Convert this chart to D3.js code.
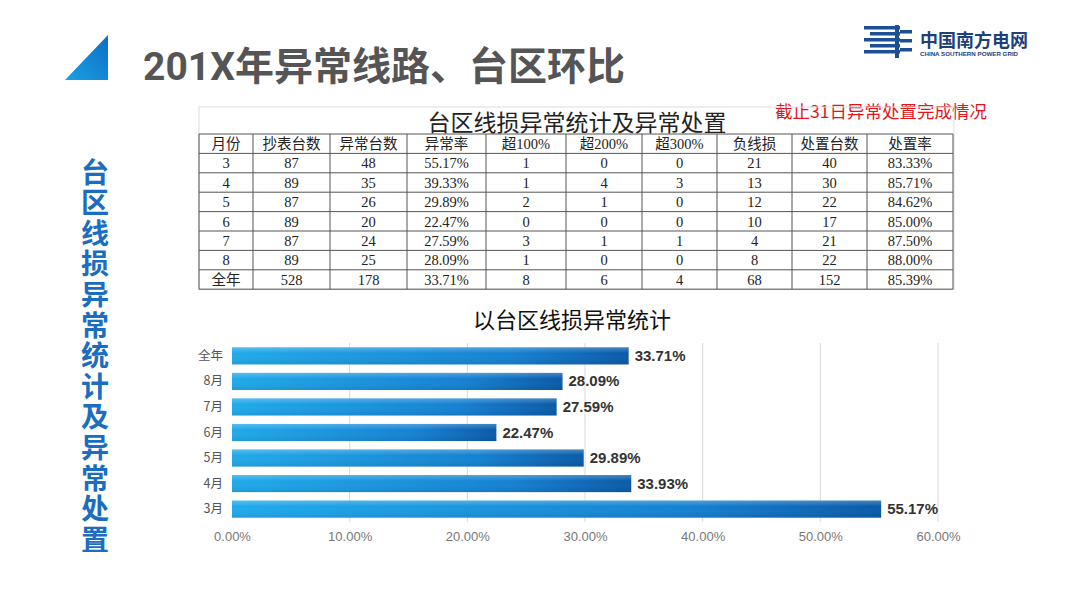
<!DOCTYPE html>
<html>
<head>
<meta charset="utf-8">
<script src="https://cdn.jsdelivr.net/npm/d3@7"></script>
<style>
  body { margin: 0; background: #fff; }
  svg { display: block; }
</style>
</head>
<body>
<div id="chart"></div>
<script>
// table data
var months = ["3", "4", "5", "6", "7", "8", "全年"];
var meterCounts = [87, 89, 87, 89, 87, 89, 528];
var abnormalCounts = [48, 35, 26, 20, 24, 25, 178];
var abnormalRates = ["55.17%", "39.33%", "29.89%", "22.47%", "27.59%", "28.09%", "33.71%"];
var over100 = [1, 1, 2, 0, 3, 1, 8];
var over200 = [0, 4, 1, 0, 1, 0, 6];
var over300 = [0, 3, 0, 0, 1, 0, 4];
var negLoss = [21, 13, 12, 10, 4, 8, 68];
var handled = [40, 30, 22, 17, 21, 22, 152];
var handleRates = ["83.33%", "85.71%", "84.62%", "85.00%", "87.50%", "88.00%", "85.39%"];
var headers = ["月份", "抄表台数", "异常台数", "异常率", "超100%", "超200%", "超300%", "负线损", "处置台数", "处置率"];

// bar chart data
var barCats = ["全年", "8月", "7月", "6月", "5月", "4月", "3月"];
var barValues = [33.71, 28.09, 27.59, 22.47, 29.89, 33.93, 55.17];
var xTicks = [0, 10, 20, 30, 40, 50, 60];

var W = 1067, H = 600;
var svg = d3.select("#chart").append("svg")
  .attr("width", W).attr("height", H);

var defs = svg.append("defs");
var tri = defs.append("linearGradient").attr("id", "tri")
  .attr("x1", 0).attr("y1", 1).attr("x2", 1).attr("y2", 0);
tri.append("stop").attr("offset", "0%").attr("stop-color", "#1c9fe3");
tri.append("stop").attr("offset", "100%").attr("stop-color", "#0b6fc4");

var barGrad = defs.append("linearGradient").attr("id", "barGrad")
  .attr("x1", 0).attr("y1", 0).attr("x2", 1).attr("y2", 0);
barGrad.append("stop").attr("offset", "0%").attr("stop-color", "#20aaea");
barGrad.append("stop").attr("offset", "70%").attr("stop-color", "#1581d2");
barGrad.append("stop").attr("offset", "100%").attr("stop-color", "#0a5aa8");

var barShade = defs.append("linearGradient").attr("id", "barShade")
  .attr("x1", 0).attr("y1", 0).attr("x2", 0).attr("y2", 1);
barShade.append("stop").attr("offset", "0%").attr("stop-color", "#fff").attr("stop-opacity", 0.25);
barShade.append("stop").attr("offset", "35%").attr("stop-color", "#fff").attr("stop-opacity", 0);
barShade.append("stop").attr("offset", "100%").attr("stop-color", "#000").attr("stop-opacity", 0.08);

// header: triangle + title
svg.append("path")
  .attr("d", "M65,80 L108,35 L108,80 Z")
  .attr("fill", "url(#tri)");

svg.append("text")
  .attr("x", 143).attr("y", 80)
  .attr("font-family", "Roboto, 'Noto Sans CJK SC', sans-serif")
  .attr("font-size", 39).attr("font-weight", "bold")
  .attr("fill", "#555")
  .text("201X年异常线路、台区环比");

// logo
var logo = svg.append("g").attr("transform", "translate(864,26)");
var stripes = [0, 6, 12, 18, 24];
logo.selectAll("rect.s").data(stripes).enter().append("rect")
  .attr("x", function(d, i) { return i % 2 ? 6 : 0; })
  .attr("y", function(d) { return d; })
  .attr("width", function(d, i) { return i % 2 ? 30 : 36; })
  .attr("height", 3.5)
  .attr("fill", "#1d4f91");
logo.append("rect").attr("x", 31).attr("y", -1).attr("width", 4).attr("height", 33).attr("fill", "#1d4f91");
logo.selectAll("rect.r").data([4, 13, 22]).enter().append("rect")
  .attr("x", 36).attr("y", function(d) { return d; })
  .attr("width", 12).attr("height", 3.5).attr("fill", "#1d4f91");
logo.append("text").attr("x", 56).attr("y", 21)
  .attr("font-family", "'Noto Sans CJK SC', sans-serif")
  .attr("font-size", 18).attr("font-weight", "bold").attr("fill", "#1d3f7a")
  .text("中国南方电网");
logo.append("text").attr("x", 56).attr("y", 30)
  .attr("font-family", "'Liberation Sans', Arial, sans-serif")
  .attr("font-size", 6.2).attr("font-weight", "bold").attr("fill", "#1d3f7a")
  .text("CHINA SOUTHERN POWER GRID");

// vertical side text
svg.append("text")
  .attr("x", 95).attr("y", 158)
  .attr("writing-mode", "vertical-rl")
  .attr("font-family", "'Noto Sans CJK SC', sans-serif")
  .attr("font-size", 28).attr("font-weight", "bold")
  .attr("letter-spacing", 2.6)
  .attr("fill", "#1b6dc1")
  .text("台区线损异常统计及异常处置");

// red note
svg.append("text")
  .attr("x", 775).attr("y", 118)
  .attr("font-family", "'Noto Sans CJK SC', sans-serif")
  .attr("font-size", 17.5).attr("fill", "#e3141b")
  .text("截止31日异常处置完成情况");

// table
var colEdges = [199, 253, 330, 407, 486, 566, 642, 717, 792, 867, 953];
var rowTop = 134, rowH = 19.4;
var rows = months.map(function(m, i) {
  return [m, meterCounts[i], abnormalCounts[i], abnormalRates[i], over100[i], over200[i],
    over300[i], negLoss[i], handled[i], handleRates[i]];
});
var allRows = [headers].concat(rows);
var tbl = svg.append("g");

tbl.append("rect")
  .attr("x", 199).attr("y", 107)
  .attr("width", 954 - 199).attr("height", rowTop + allRows.length * rowH - 107)
  .attr("fill", "none").attr("stroke", "#ddd");

tbl.append("text")
  .attr("x", 577).attr("y", 131)
  .attr("text-anchor", "middle")
  .attr("font-family", "'Noto Sans CJK SC', sans-serif")
  .attr("font-size", 23).attr("fill", "#222")
  .text("台区线损异常统计及异常处置");

var tBottom = rowTop + allRows.length * rowH;
tbl.selectAll("line.h").data(d3.range(allRows.length + 1)).enter().append("line")
  .attr("x1", colEdges[0]).attr("x2", colEdges[colEdges.length - 1])
  .attr("y1", function(d) { return rowTop + d * rowH; })
  .attr("y2", function(d) { return rowTop + d * rowH; })
  .attr("stroke", "#555").attr("stroke-width", 1);
tbl.selectAll("line.v").data(colEdges).enter().append("line")
  .attr("x1", function(d) { return d; }).attr("x2", function(d) { return d; })
  .attr("y1", rowTop).attr("y2", tBottom)
  .attr("stroke", "#555").attr("stroke-width", 1);

allRows.forEach(function(r, ri) {
  tbl.selectAll("text.r" + ri).data(r).enter().append("text")
    .attr("x", function(d, ci) { return (colEdges[ci] + colEdges[ci + 1]) / 2; })
    .attr("y", rowTop + ri * rowH + 15)
    .attr("text-anchor", "middle")
    .attr("font-family", "'Liberation Serif', 'Noto Sans CJK SC', serif")
    .attr("font-size", 14.5).attr("fill", "#222")
    .text(function(d) { return d; });
});

// bar chart
svg.append("text")
  .attr("x", 572).attr("y", 328)
  .attr("text-anchor", "middle")
  .attr("font-family", "'Noto Sans CJK SC', sans-serif")
  .attr("font-size", 22).attr("fill", "#111")
  .text("以台区线损异常统计");

var x = d3.scaleLinear().domain([0, 60]).range([232, 938]);
var y = d3.scaleBand().domain(barCats).range([343, 522]).paddingInner(0.33).paddingOuter(0.17);

var g = svg.append("g");
g.selectAll("line.grid").data(xTicks.slice(1)).enter().append("line")
  .attr("x1", function(d) { return x(d); }).attr("x2", function(d) { return x(d); })
  .attr("y1", 343).attr("y2", 522)
  .attr("stroke", "#d9d9d9").attr("stroke-width", 1);

var xAxis = g.append("g").attr("transform", "translate(0,522)")
  .call(d3.axisBottom(x).tickValues(xTicks).tickSize(0).tickPadding(10)
    .tickFormat(function(d) { return d.toFixed(2) + "%"; }));
xAxis.select(".domain").remove();
xAxis.selectAll("text")
  .attr("font-family", "'Liberation Sans', Arial, sans-serif")
  .attr("font-size", 13).attr("fill", "#777");

var yAxis = g.append("g").attr("transform", "translate(225,0)")
  .call(d3.axisLeft(y).tickSize(0).tickPadding(2));
yAxis.select(".domain").remove();
yAxis.selectAll("text")
  .attr("font-family", "'Noto Sans CJK SC', sans-serif")
  .attr("font-size", 12.5).attr("fill", "#555");

var data = barCats.map(function(c, i) { return { cat: c, v: barValues[i] }; });
g.selectAll("rect.bar").data(data).enter().append("rect")
  .attr("x", x(0))
  .attr("y", function(d) { return y(d.cat); })
  .attr("width", function(d) { return x(d.v) - x(0); })
  .attr("height", y.bandwidth())
  .attr("fill", "url(#barGrad)");
g.selectAll("rect.shade").data(data).enter().append("rect")
  .attr("x", x(0))
  .attr("y", function(d) { return y(d.cat); })
  .attr("width", function(d) { return x(d.v) - x(0); })
  .attr("height", y.bandwidth())
  .attr("fill", "url(#barShade)");

g.selectAll("text.val").data(data).enter().append("text")
  .attr("x", function(d) { return x(d.v) + 6; })
  .attr("y", function(d) { return y(d.cat) + y.bandwidth() / 2 + 5; })
  .attr("font-family", "'Liberation Sans', Arial, sans-serif")
  .attr("font-size", 15).attr("font-weight", "bold").attr("fill", "#333")
  .text(function(d) { return d.v.toFixed(2) + "%"; });
</script>
</body>
</html>
